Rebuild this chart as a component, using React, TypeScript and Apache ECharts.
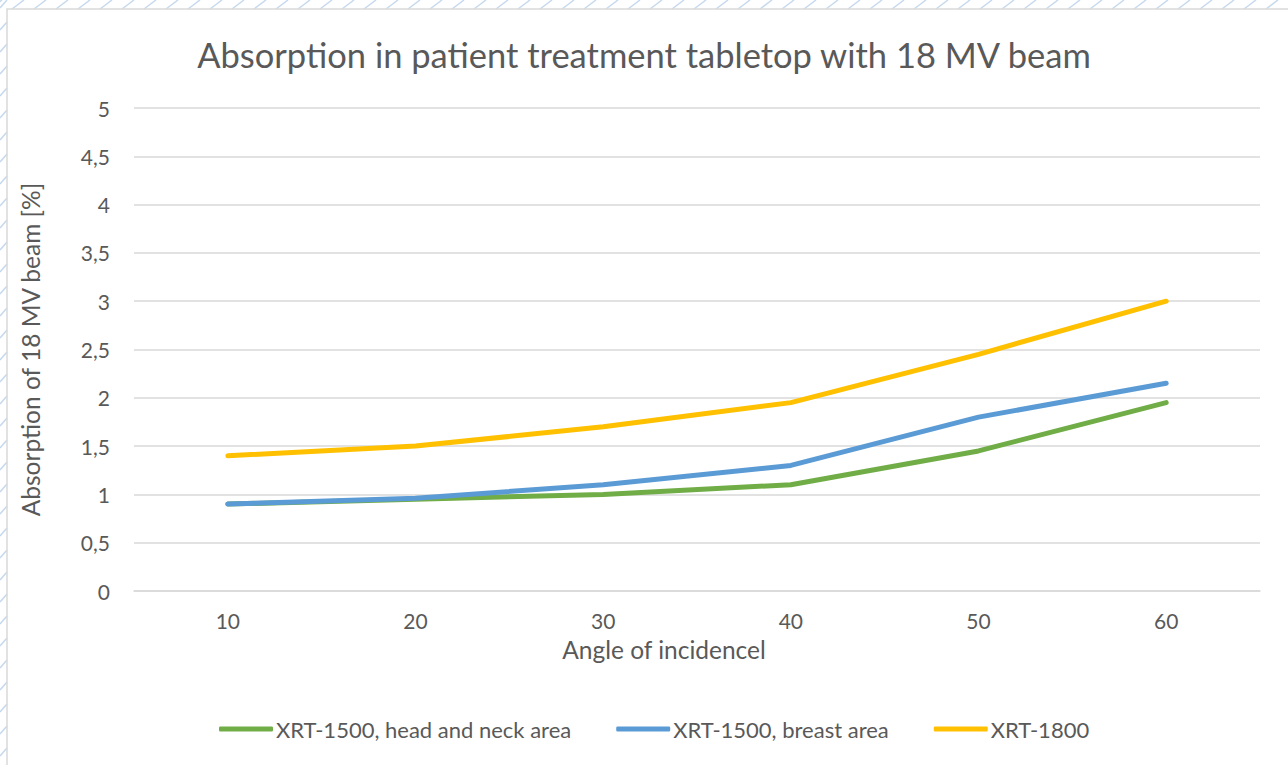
import React, { useEffect, useRef } from "react";
import * as echarts from "echarts";

const categories = ["10", "20", "30", "40", "50", "60"];
const headNeck = [0.9, 0.95, 1.0, 1.1, 1.45, 1.95];
const breast = [0.9, 0.96, 1.1, 1.3, 1.8, 2.15];
const xrt1800 = [1.4, 1.5, 1.7, 1.95, 2.45, 3.0];
const seriesNames = ["XRT-1500, head and neck area", "XRT-1500, breast area", "XRT-1800"];
const colors = ["#70AD47", "#5B9BD5", "#FFC000"];

const FONT = "Lato, 'Noto Sans', sans-serif";
const TXT = "#595959";

export default function App() {
  const ref = useRef<HTMLDivElement>(null);
  useEffect(() => {
    document.body.style.margin = "0";
    const chart = echarts.init(ref.current!, undefined, { renderer: "svg" });
    const hatch: any[] = [];
    for (let x = -10; x < 1300; x += 22) {
      hatch.push({ type: "line", shape: { x1: x, y1: 9, x2: x + 12, y2: 0 }, style: { stroke: "#c6d9ee", lineWidth: 1.5 }, silent: true });
    }
    for (let y = 0; y < 770; y += 22) {
      hatch.push({ type: "line", shape: { x1: 0, y1: y + 8, x2: 7, y2: y }, style: { stroke: "#c6d9ee", lineWidth: 1.5 }, silent: true });
    }
    hatch.push({ type: "polyline", shape: { points: [[7, 800], [7, 9], [1300, 9]] }, style: { stroke: "#d9d9d9", lineWidth: 1.5, fill: "none" }, silent: true });
    const data = [headNeck, breast, xrt1800];
    chart.setOption({
      animation: false,
      backgroundColor: "#ffffff",
      graphic: hatch,
      title: {
        text: "Absorption in patient treatment tabletop with 18 MV beam",
        left: "center",
        top: 32,
        textStyle: { fontFamily: FONT, fontSize: 34.5, fontWeight: "normal", color: TXT },
      },
      legend: {
        bottom: 20,
        left: 214,
        itemWidth: 54,
        itemHeight: 5,
        itemGap: 45,
        icon: "roundRect",
        textStyle: { fontFamily: FONT, fontSize: 22, color: TXT, padding: [0, 0, 0, -2] },
        data: seriesNames,
      },
      grid: { left: 134, right: 28, top: 108, bottom: 174 },
      xAxis: {
        type: "category",
        data: categories,
        boundaryGap: true,
        name: "Angle of incidencel",
        nameLocation: "middle",
        nameGap: 46,
        nameTextStyle: { fontFamily: FONT, fontSize: 24.5, color: TXT, padding: [0, 66, 0, 0] },
        axisLine: { lineStyle: { color: "#d9d9d9", width: 1.5 } },
        axisTick: { show: false },
        axisLabel: { fontFamily: FONT, fontSize: 21, color: TXT, margin: 19 },
      },
      yAxis: {
        type: "value",
        min: 0,
        max: 5,
        interval: 0.5,
        name: "Absorption of 18 MV beam [%]",
        nameLocation: "middle",
        nameGap: 91,
        nameTextStyle: { fontFamily: FONT, fontSize: 24.5, color: TXT },
        axisLine: { show: false },
        axisTick: { show: false },
        splitLine: { lineStyle: { color: "#d9d9d9", width: 1.5 } },
        axisLabel: {
          fontFamily: FONT,
          fontSize: 21,
          color: TXT,
          margin: 24,
          formatter: (v: number) => String(v).replace(".", ","),
        },
      },
      series: data.map((d, i) => ({
        name: seriesNames[i],
        type: "line",
        data: d,
        symbol: "none",
        smooth: false,
        lineStyle: { color: colors[i], width: 5, cap: "round", join: "round" },
        itemStyle: { color: colors[i] },
      })),
    });
    return () => chart.dispose();
  }, []);
  return <div ref={ref} style={{ width: 1288, height: 765 }} />;
}
